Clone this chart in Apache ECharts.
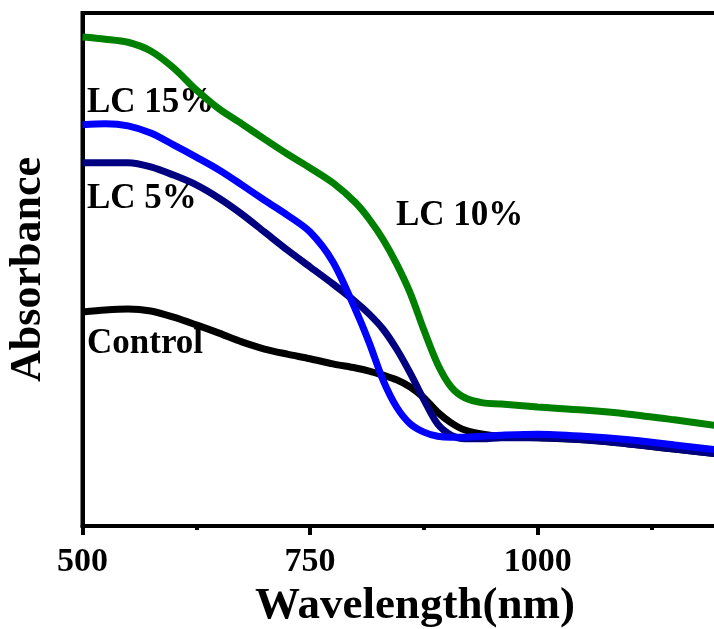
<!DOCTYPE html>
<html>
<head>
<meta charset="utf-8">
<script src="https://cdn.jsdelivr.net/npm/echarts@6/dist/echarts.min.js"></script>
<style>
  html, body { margin: 0; padding: 0; background: #fff; }
  #main { width: 714px; height: 629px; }
</style>
</head>
<body>
<div id="main"></div>
<script>
// wavelength (nm) shared by every curve
const wavelength = [500, 525, 550, 575, 600, 625, 650, 675, 700, 725, 750, 775, 800, 815, 830, 845, 860, 875, 890, 905, 920, 940, 960, 1000, 1050, 1100, 1150, 1200];

// absorbance, arbitrary units
const control = [0.417, 0.421, 0.423, 0.419, 0.407, 0.392, 0.376, 0.359, 0.345, 0.335, 0.326, 0.316, 0.308, 0.302, 0.294, 0.285, 0.271, 0.250, 0.222, 0.201, 0.187, 0.179, 0.175, 0.172, 0.168, 0.160, 0.150, 0.140];
const lc5 = [0.708, 0.708, 0.708, 0.700, 0.684, 0.665, 0.639, 0.608, 0.573, 0.538, 0.505, 0.472, 0.437, 0.413, 0.384, 0.345, 0.298, 0.246, 0.199, 0.177, 0.170, 0.170, 0.172, 0.172, 0.168, 0.160, 0.150, 0.140];
const lc15 = [0.782, 0.784, 0.780, 0.766, 0.743, 0.719, 0.694, 0.665, 0.635, 0.606, 0.573, 0.515, 0.421, 0.357, 0.285, 0.232, 0.199, 0.183, 0.175, 0.173, 0.173, 0.175, 0.177, 0.179, 0.175, 0.168, 0.158, 0.148];
const lc10 = [0.953, 0.949, 0.943, 0.926, 0.893, 0.850, 0.813, 0.784, 0.754, 0.725, 0.698, 0.669, 0.630, 0.598, 0.559, 0.511, 0.454, 0.382, 0.316, 0.271, 0.250, 0.240, 0.238, 0.232, 0.226, 0.218, 0.207, 0.195];

const xTicks = [500, 750, 1000];

const FONT = '"Liberation Serif", "Times New Roman", serif';

function pairs(ys){
    return wavelength.map((x,i)=>[x, ys[i]]);
}

function lineSeries(name, ys, color){
    return {
        name: name,
        type: 'line',
        data: pairs(ys),
        smooth: 0.3,
        symbol: 'none',
        lineStyle: { color: color, width: 7 },
        silent: true
    };
}

function label(text, left, top){
    return {
        type: 'text',
        left: left,
        top: top,
        style: {
            text: text,
            font: 'bold 35px ' + FONT,
            fill: '#000'
        }
    };
}

let myChart = echarts.init(document.getElementById('main'));
let option = {
    backgroundColor: '#fff',
    animation: false,
    grid: {
        left: 82.5,
        width: 682.8,   // runs past the right edge, like the cropped original
        top: 13,
        bottom: 103,
        outerBoundsMode: 'none',
        containLabel: false,
        show: true,
        borderColor: '#000',
        borderWidth: 4
    },
    xAxis: {
        type: 'value',
        min: 500,
        max: 1250,
        interval: 250,
        name: 'Wavelength(nm)',
        nameLocation: 'middle',
        nameGap: 55,
        nameTextStyle: {
            fontFamily: FONT,
            fontWeight: 'bold',
            fontSize: 45,
            color: '#000',
            padding: [0, 18, 0, 0]
        },
        axisLine: { lineStyle: { color: '#000', width: 4 } },
        axisTick: { show: true, inside: false, length: 9, lineStyle: { color: '#000', width: 4 } },
        minorTick: { show: true, splitNumber: 2, length: 4, lineStyle: { color: '#000', width: 4 } },
        splitLine: { show: false },
        axisLabel: {
            fontFamily: FONT,
            fontWeight: 'bold',
            fontSize: 34,
            color: '#000',
            margin: 19,
            showMaxLabel: false,
            formatter: v => xTicks.includes(v) ? String(v) : ''
        }
    },
    yAxis: {
        type: 'value',
        min: 0,
        max: 1,
        name: 'Absorbance',
        nameLocation: 'middle',
        nameGap: 32,
        nameTextStyle: {
            fontFamily: FONT,
            fontWeight: 'bold',
            fontSize: 44,
            color: '#000'
        },
        axisLine: { show: true, lineStyle: { color: '#000', width: 4 } },
        axisTick: { show: false },
        axisLabel: { show: false },
        splitLine: { show: false }
    },
    graphic: [
        label('LC 15%', 87, 85),
        label('LC 5%', 87, 181),
        label('Control', 87, 326),
        label('LC 10%', 396, 198)
    ],
    series: [
        lineSeries('Control', control, '#000000'),
        lineSeries('LC 5%', lc5, '#000080'),
        lineSeries('LC 15%', lc15, '#0000ff'),
        lineSeries('LC 10%', lc10, '#008000')
    ]
};
myChart.setOption(option);
</script>
</body>
</html>
